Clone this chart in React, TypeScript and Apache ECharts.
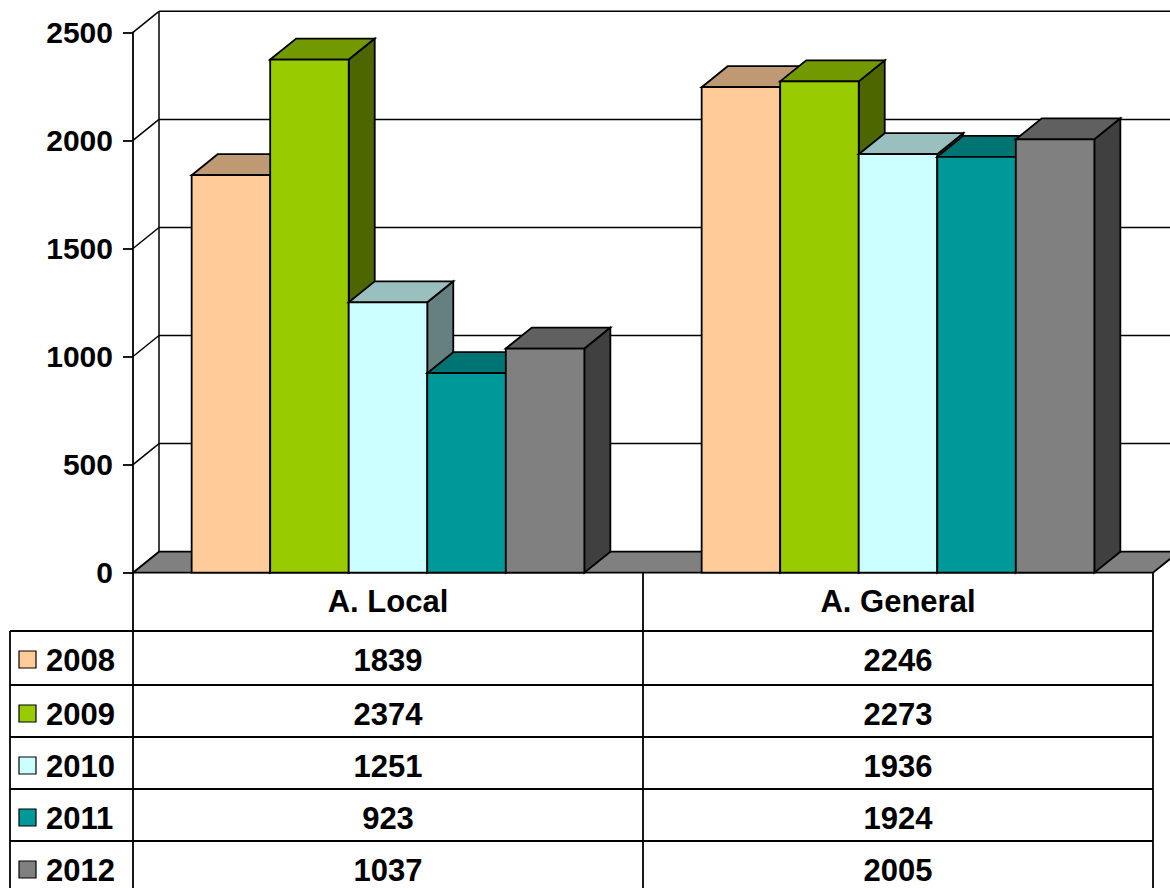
import React, { useEffect, useRef } from "react";
import * as echarts from "echarts";

// ---------- data ----------
const categories = ["A. Local", "A. General"];
const years = ["2008", "2009", "2010", "2011", "2012"];
const values2008 = [1839, 2246];
const values2009 = [2374, 2273];
const values2010 = [1251, 1936];
const values2011 = [923, 1924];
const values2012 = [1037, 2005];
const seriesValues = [values2008, values2009, values2010, values2011, values2012];
const yTicks = [0, 500, 1000, 1500, 2000, 2500];

// ---------- styles ----------
const frontColors = ["#FFCC99", "#99CC00", "#CCFFFF", "#009999", "#808080"];
const topColors = ["#BF9973", "#739900", "#99BFBF", "#007373", "#606060"];
const sideColors = ["#806650", "#4D6600", "#668080", "#004D4D", "#404040"];
const FONT = "'Liberation Sans', Arial, sans-serif";

const W = 1170;
const H = 888;
const GRID_LEFT = 133;
const GRID_RIGHT_X = 1153;
const GRID_TOP = 32.3;
const GRID_BOTTOM_Y = 572.7;
const DX = 26;
const DY = -21;
const GROUP_RATIO = 0.77;
const LW = 1.8;

// table layout
const TABLE_LEFT = 10;
const HEADER_TEXT_Y = 601;
const ROW_TOPS = [631, 685, 737, 789, 841];
const ROW_TEXT_OFFSET = 29;

export default function App() {
  const ref = useRef<HTMLDivElement>(null);

  useEffect(() => {
    if (!ref.current) return;
    const chart = echarts.init(ref.current, null, { renderer: "svg" });

    const wallsRender = (params: any, api: any) => {
      const cs = params.coordSys;
      const left = cs.x;
      const right = cs.x + cs.width;
      const bottom = cs.y + cs.height;
      const top = cs.y;
      const children: any[] = [];
      yTicks.forEach((v) => {
        if (v === 0) return;
        const y = api.coord([0, v])[1];
        children.push({
          type: "line",
          shape: { x1: left + DX, y1: y + DY, x2: right + DX + 20, y2: y + DY },
          style: { stroke: "#000", lineWidth: 1.5 },
        });
        children.push({
          type: "line",
          shape: { x1: left, y1: y, x2: left + DX, y2: y + DY },
          style: { stroke: "#000", lineWidth: 1.5 },
        });
      });
      children.push({
        type: "line",
        shape: { x1: left + DX, y1: top + DY, x2: left + DX, y2: bottom + DY },
        style: { stroke: "#000", lineWidth: 1.5 },
      });
      children.push({
        type: "polygon",
        shape: {
          points: [
            [left, bottom],
            [right, bottom],
            [right + DX, bottom + DY],
            [left + DX, bottom + DY],
          ],
        },
        style: { fill: "#808080", stroke: "#000", lineWidth: LW },
      });
      return { type: "group", children };
    };

    const makeBarRender = (j: number) => (params: any, api: any) => {
      const cat = api.value(0);
      const val = api.value(1);
      const base = api.coord([cat, 0]);
      const topPt = api.coord([cat, val]);
      const band = api.size([1, 0])[0];
      const groupW = band * GROUP_RATIO;
      const barW = groupW / years.length;
      const x0 = base[0] - groupW / 2 + j * barW;
      const x1 = x0 + barW;
      const y0 = base[1];
      const yv = topPt[1];
      const st = { stroke: "#000", lineWidth: LW, lineJoin: "miter" };
      return {
        type: "group",
        children: [
          {
            type: "polygon",
            shape: { points: [[x1, yv], [x1 + DX, yv + DY], [x1 + DX, y0 + DY], [x1, y0]] },
            style: { fill: sideColors[j], ...st },
          },
          {
            type: "polygon",
            shape: { points: [[x0, yv], [x0 + DX, yv + DY], [x1 + DX, yv + DY], [x1, yv]] },
            style: { fill: topColors[j], ...st },
          },
          {
            type: "rect",
            shape: { x: x0, y: yv, width: barW, height: y0 - yv },
            style: { fill: frontColors[j], ...st },
          },
        ],
      };
    };

    // table graphics
    const colW = (GRID_RIGHT_X - GRID_LEFT) / categories.length;
    const colCenters = categories.map((_, i) => GRID_LEFT + (i + 0.5) * colW);
    const colEdges = categories.map((_, i) => GRID_LEFT + (i + 1) * colW);
    const g: any[] = [];
    const lineStyle = { stroke: "#000", lineWidth: LW };
    // verticals
    g.push({ type: "line", shape: { x1: GRID_LEFT, y1: GRID_BOTTOM_Y, x2: GRID_LEFT, y2: H + 5 }, style: lineStyle });
    g.push({ type: "line", shape: { x1: TABLE_LEFT, y1: ROW_TOPS[0], x2: TABLE_LEFT, y2: H + 5 }, style: lineStyle });
    colEdges.forEach((x) => {
      g.push({ type: "line", shape: { x1: x, y1: GRID_BOTTOM_Y, x2: x, y2: H + 5 }, style: lineStyle });
    });
    // horizontals
    ROW_TOPS.forEach((y) => {
      g.push({ type: "line", shape: { x1: TABLE_LEFT, y1: y, x2: GRID_RIGHT_X, y2: y }, style: lineStyle });
    });
    const txt = (text: string, x: number, y: number, align: string) => ({
      type: "text",
      x,
      y,
      style: {
        text,
        fill: "#000",
        fontSize: 31,
        fontWeight: "bold",
        fontFamily: FONT,
        align,
        verticalAlign: "middle",
        textAlign: align,
        textVerticalAlign: "middle",
      },
    });
    categories.forEach((c, i) => g.push(txt(c, colCenters[i], HEADER_TEXT_Y, "center")));
    years.forEach((yr, j) => {
      const cy = ROW_TOPS[j] + ROW_TEXT_OFFSET;
      g.push({
        type: "rect",
        shape: { x: 19, y: cy - 9, width: 17, height: 17 },
        style: { fill: frontColors[j], stroke: "#000", lineWidth: 1.2 },
      });
      g.push(txt(yr, 46, cy, "left"));
      seriesValues[j].forEach((v, i) => g.push(txt(String(v), colCenters[i], cy, "center")));
    });

    chart.setOption({
      animation: false,
      backgroundColor: "#fff",
      grid: {
        left: GRID_LEFT,
        top: GRID_TOP,
        width: GRID_RIGHT_X - GRID_LEFT,
        height: GRID_BOTTOM_Y - GRID_TOP,
        containLabel: false,
      },
      xAxis: {
        type: "category",
        data: categories,
        axisLine: { show: false },
        axisTick: { show: false },
        axisLabel: { show: false },
        splitLine: { show: false },
      },
      yAxis: {
        type: "value",
        min: 0,
        max: 2500,
        interval: 500,
        axisLine: { show: true, lineStyle: { color: "#000", width: LW } },
        axisTick: { show: true, length: 10, lineStyle: { color: "#000", width: LW } },
        axisLabel: {
          margin: 20,
          color: "#000",
          fontSize: 30,
          fontWeight: "bold",
          fontFamily: FONT,
          formatter: (v: number) => String(v),
        },
        splitLine: { show: false },
      },
      series: [
        {
          type: "custom",
          name: "walls",
          coordinateSystem: "cartesian2d",
          clip: false,
          silent: true,
          renderItem: wallsRender,
          data: [[0, 0]],
          z: 1,
        },
        ...years.map((yr, j) => ({
          type: "custom",
          name: yr,
          coordinateSystem: "cartesian2d",
          clip: false,
          renderItem: makeBarRender(j),
          encode: { x: 0, y: 1 },
          data: seriesValues[j].map((v, i) => [i, v]),
          z: 2,
        })),
      ],
      graphic: { elements: g },
    });

    return () => chart.dispose();
  }, []);

  return (
    <div
      ref={ref}
      style={{ position: "absolute", left: 0, top: 0, width: W, height: H }}
    />
  );
}
